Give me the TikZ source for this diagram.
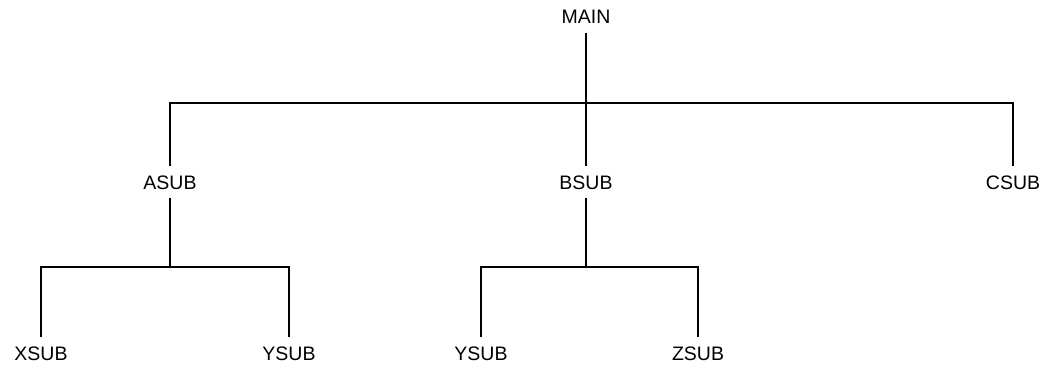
\documentclass[tikz,border=0pt]{standalone}
\usepackage{fontspec}
\setmainfont{Liberation Sans}
\begin{document}
\begin{tikzpicture}[x=1pt,y=-1pt,
  lbl/.style={font=\fontsize{19.5}{20}\selectfont, inner xsep=0pt, inner ysep=8.5pt, text height=14pt, text depth=0pt},
  wire/.style={line width=2.7pt, line join=miter, line cap=butt}]
\useasboundingbox (0,0) rectangle (1048,369);
\node[lbl] (main) at (586,17) {MAIN};
\node[lbl] (asub) at (170,182) {ASUB};
\node[lbl] (bsub) at (586,182) {BSUB};
\node[lbl] (csub) at (1013,182) {CSUB};
\node[lbl] (xsub) at (41,353) {XSUB};
\node[lbl] (ysuba) at (289,353) {YSUB};
\node[lbl] (ysubb) at (481,353) {YSUB};
\node[lbl] (zsub) at (698,353) {ZSUB};
\coordinate (tb) at (586,103);
\coordinate (ab) at (170,267);
\coordinate (bb) at (586,267);
\draw[wire] (main.south) -- (bsub.north);
\draw[wire] (asub.north) |- (tb) -| (csub.north);
\draw[wire] (asub.south) -- (ab);
\draw[wire] (xsub.north) |- (ab) -| (ysuba.north);
\draw[wire] (bsub.south) -- (bb);
\draw[wire] (ysubb.north) |- (bb) -| (zsub.north);
\end{tikzpicture}
\end{document}
